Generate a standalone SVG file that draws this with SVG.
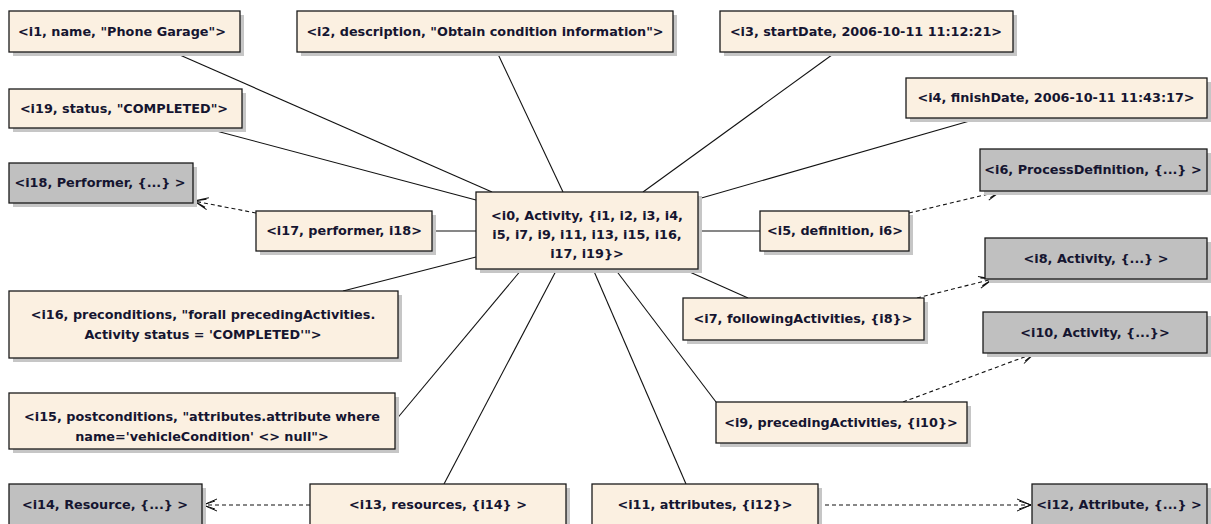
<svg xmlns="http://www.w3.org/2000/svg" width="1211" height="524" viewBox="0 0 1211 524">
<defs>
<style>
.box{stroke:#1a1a1a;stroke-width:1.3}
.attr{fill:#fbf0e1}
.ref{fill:#c0c0c0}
.shadow{fill:#c6c6c6}
text{font-family:"DejaVu Sans","Liberation Sans",sans-serif;font-weight:bold;font-size:12.8px;fill:#151530;text-anchor:middle}
.solid{stroke:#111;stroke-width:1.1;fill:none}
.dash{stroke:#111;stroke-width:1.1;fill:none;stroke-dasharray:4 3;marker-end:url(#open)}
</style>
<marker id="open" viewBox="0 0 16 14" refX="15" refY="7" markerWidth="16" markerHeight="14" markerUnits="userSpaceOnUse" orient="auto">
<path d="M1,1 L15,7 L1,13 M3,3 L15,7 L3,11" fill="none" stroke="#111" stroke-width="1"/>
</marker>
</defs>
<rect width="1211" height="524" fill="#ffffff"/>
<g id="connectors">
<line class="solid" x1="173" y1="52" x2="492" y2="192"/>
<line class="solid" x1="205" y1="128" x2="476" y2="200"/>
<line class="solid" x1="497" y1="52" x2="563" y2="192"/>
<line class="solid" x1="836" y1="52" x2="643" y2="192"/>
<line class="solid" x1="980" y1="118" x2="698" y2="199"/>
<line class="solid" x1="432" y1="231" x2="476" y2="231"/>
<line class="solid" x1="698" y1="231" x2="760" y2="231"/>
<line class="solid" x1="343" y1="291" x2="476" y2="257"/>
<line class="solid" x1="683" y1="269" x2="748" y2="298"/>
<line class="solid" x1="395" y1="421" x2="522" y2="269"/>
<line class="solid" x1="444" y1="484" x2="557" y2="269"/>
<line class="solid" x1="686" y1="484" x2="593" y2="269"/>
<line class="solid" x1="716" y1="402" x2="615" y2="269"/>
<line class="dash" x1="256" y1="213" x2="194" y2="201"/>
<line class="dash" x1="909" y1="213" x2="1001" y2="191"/>
<line class="dash" x1="917" y1="298" x2="993" y2="279"/>
<line class="dash" x1="903" y1="402" x2="1035" y2="353"/>
<line class="dash" x1="310" y1="505" x2="203" y2="505"/>
<line class="dash" x1="818" y1="505" x2="1031" y2="505"/>
</g>
<g id="i1"><rect class="shadow" x="13" y="15" width="231" height="41"/><rect class="box attr" x="9" y="11" width="231" height="41"/><text x="122" y="36">&lt;i1, name, "Phone Garage"&gt;</text></g>
<g id="i2"><rect class="shadow" x="301" y="15" width="376" height="41"/><rect class="box attr" x="297" y="11" width="376" height="41"/><text x="485" y="36">&lt;i2, description, "Obtain condition information"&gt;</text></g>
<g id="i3"><rect class="shadow" x="724" y="15" width="293" height="41"/><rect class="box attr" x="720" y="11" width="293" height="41"/><text x="866" y="36">&lt;i3, startDate, 2006-10-11 11:12:21&gt;</text></g>
<g id="i19"><rect class="shadow" x="13" y="93" width="233" height="39"/><rect class="box attr" x="9" y="89" width="233" height="39"/><text x="124" y="113">&lt;i19, status, "COMPLETED"&gt;</text></g>
<g id="i4"><rect class="shadow" x="910" y="82" width="301" height="40"/><rect class="box attr" x="906" y="78" width="301" height="40"/><text x="1056" y="102">&lt;i4, finishDate, 2006-10-11 11:43:17&gt;</text></g>
<g id="i18"><rect class="shadow" x="13" y="167" width="184" height="40"/><rect class="box ref" x="9" y="163" width="184" height="40"/><text x="100" y="187">&lt;i18, Performer, {...} &gt;</text></g>
<g id="i6"><rect class="shadow" x="984" y="153" width="227" height="42"/><rect class="box ref" x="980" y="149" width="227" height="42"/><text x="1093" y="174">&lt;i6, ProcessDefinition, {...} &gt;</text></g>
<g id="i17"><rect class="shadow" x="260" y="215" width="176" height="40"/><rect class="box attr" x="256" y="211" width="176" height="40"/><text x="344" y="235">&lt;i17, performer, i18&gt;</text></g>
<g id="i0"><rect class="shadow" x="480" y="196" width="222" height="77"/><rect class="box attr" x="476" y="192" width="222" height="77"/><text x="587" y="220">&lt;i0, Activity, {i1, i2, i3, i4,</text><text x="587" y="239">i5, i7, i9, i11, i13, i15, i16,</text><text x="587" y="258">i17, i19}&gt;</text></g>
<g id="i5"><rect class="shadow" x="764" y="215" width="149" height="40"/><rect class="box attr" x="760" y="211" width="149" height="40"/><text x="835" y="235">&lt;i5, definition, i6&gt;</text></g>
<g id="i8"><rect class="shadow" x="989" y="242" width="222" height="41"/><rect class="box ref" x="985" y="238" width="222" height="41"/><text x="1096" y="263">&lt;i8, Activity, {...} &gt;</text></g>
<g id="i16"><rect class="shadow" x="13" y="295" width="389" height="67"/><rect class="box attr" x="9" y="291" width="389" height="67"/><text x="203" y="319">&lt;i16, preconditions, "forall precedingActivities.</text><text x="203" y="339">Activity status = 'COMPLETED'"&gt;</text></g>
<g id="i7"><rect class="shadow" x="687" y="302" width="241" height="42"/><rect class="box attr" x="683" y="298" width="241" height="42"/><text x="803" y="323">&lt;i7, followingActivities, {i8}&gt;</text></g>
<g id="i10"><rect class="shadow" x="987" y="316" width="224" height="41"/><rect class="box ref" x="983" y="312" width="224" height="41"/><text x="1095" y="337">&lt;i10, Activity, {...}&gt;</text></g>
<g id="i15"><rect class="shadow" x="13" y="397" width="386" height="56"/><rect class="box attr" x="9" y="393" width="386" height="56"/><text x="202" y="421">&lt;i15, postconditions, "attributes.attribute where</text><text x="202" y="441">name='vehicleCondition' &lt;&gt; null"&gt;</text></g>
<g id="i9"><rect class="shadow" x="720" y="406" width="251" height="41"/><rect class="box attr" x="716" y="402" width="251" height="41"/><text x="841" y="427">&lt;i9, precedingActivities, {i10}&gt;</text></g>
<g id="i14"><rect class="shadow" x="13" y="488" width="193" height="41"/><rect class="box ref" x="9" y="484" width="193" height="41"/><text x="105" y="509">&lt;i14, Resource, {...} &gt;</text></g>
<g id="i13"><rect class="shadow" x="314" y="488" width="256" height="41"/><rect class="box attr" x="310" y="484" width="256" height="41"/><text x="438" y="509">&lt;i13, resources, {i14} &gt;</text></g>
<g id="i11"><rect class="shadow" x="596" y="488" width="226" height="41"/><rect class="box attr" x="592" y="484" width="226" height="41"/><text x="705" y="509">&lt;i11, attributes, {i12}&gt;</text></g>
<g id="i12"><rect class="shadow" x="1036" y="488" width="175" height="41"/><rect class="box ref" x="1032" y="484" width="175" height="41"/><text x="1119" y="509">&lt;i12, Attribute, {...} &gt;</text></g>
</svg>
